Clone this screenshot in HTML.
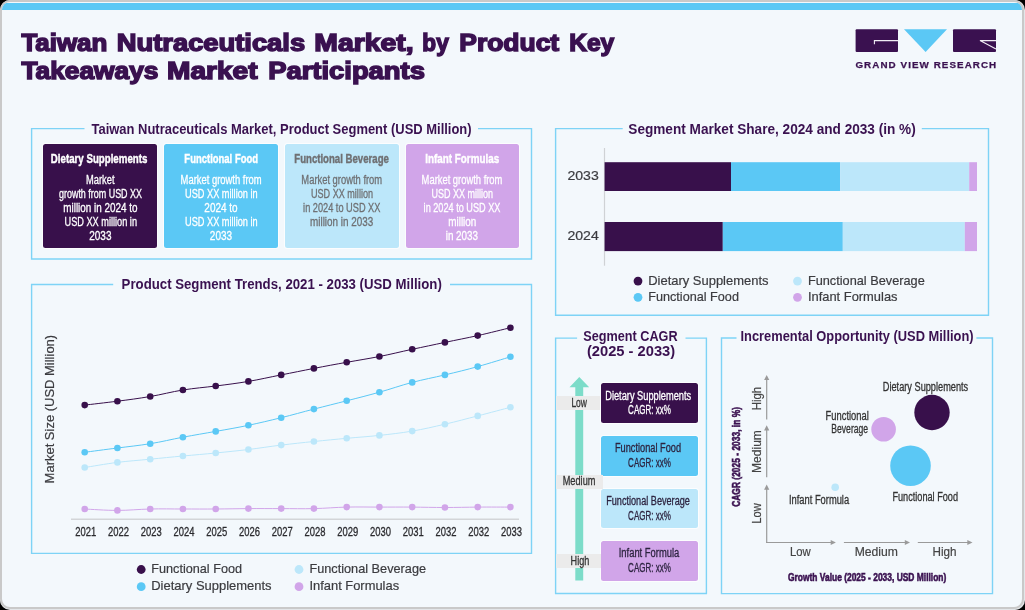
<!DOCTYPE html>
<html lang="en"><head><meta charset="utf-8"><title>Taiwan Nutraceuticals Market, by Product Key Takeaways Market Participants</title>
<style>
html,body{margin:0;padding:0;background:#000;}
body{width:1025px;height:610px;overflow:hidden;font-family:"Liberation Sans",sans-serif;}
#outer{position:absolute;left:0;top:0;width:1025px;height:610px;border-radius:10px;background:#e3e6e9;}
#card{position:absolute;left:0;top:0;width:1020px;height:605px;border:2px solid #c9c9c9;border-radius:10px;background:#f3f8fc;overflow:hidden;}
#topbar{position:absolute;left:0;top:0.5px;width:1021px;height:7.4px;background:#5bc8f5;}
#stage{position:absolute;left:0;top:0;width:1025px;height:610px;will-change:transform;}
svg{position:absolute;left:0;top:0;}
.t{position:absolute;left:0;top:0;white-space:nowrap;transform-origin:0 0;line-height:normal;}
.bx{position:absolute;border-radius:2.5px;box-shadow:0 0 0 1px rgba(255,255,255,.75);}
.tag{position:absolute;background:#ebebeb;}
</style></head><body>
<div id="outer"><div id="card"><div id="topbar"></div></div></div>
<div id="stage">
<svg width="1025" height="610" viewBox="0 0 1025 610">
<path d="M84.5,128.6H31.6V259.0H531.5V128.6H478" fill="none" stroke="#7ed3f6" stroke-width="1.4"/>
<path d="M622.7,128.6H555.6V315.3H988.5V128.6H921.8" fill="none" stroke="#7ed3f6" stroke-width="1.4"/>
<path d="M113.2,284.5H31.6V553.4H531.5V284.5H450" fill="none" stroke="#7ed3f6" stroke-width="1.4"/>
<path d="M577.1,338.1H555.6V593.5H706.4V338.1H685.5" fill="none" stroke="#7ed3f6" stroke-width="1.4"/>
<path d="M736.5,338.0H721.5V593.6H992.5V338.0H976.4" fill="none" stroke="#7ed3f6" stroke-width="1.4"/>
</svg>
<div class="bx" style="left:43.1px;top:144px;width:113.7px;height:103.6px;background:#38104b"></div>
<div class="bx" style="left:164.1px;top:144px;width:113.7px;height:103.6px;background:#5bc8f5"></div>
<div class="bx" style="left:285px;top:144px;width:113.7px;height:103.6px;background:#bce7fa"></div>
<div class="bx" style="left:405.8px;top:144px;width:113.7px;height:103.6px;background:#d1a5e9"></div>
<div class="bx" style="left:601px;top:383.2px;width:96.9px;height:39.6px;background:#38104b"></div>
<div class="bx" style="left:601px;top:436.1px;width:96.9px;height:39.6px;background:#5bc8f5"></div>
<div class="bx" style="left:601px;top:488.8px;width:96.9px;height:39.6px;background:#bce7fa"></div>
<div class="bx" style="left:601px;top:541.3px;width:96.9px;height:39.6px;background:#d1a5e9"></div>
<svg width="1025" height="610" viewBox="0 0 1025 610">
<rect x="855.6" y="29.2" width="42.4" height="22.8" rx="1" fill="#3a1150"/>
<path d="M898,40.6H874.4V44.2" fill="none" stroke="#f1edf5" stroke-width="1.1"/>
<path d="M904,29.2H947L925.6,52Z" fill="#5bc8f5"/>
<rect x="953" y="29.2" width="43" height="22.8" rx="1" fill="#3a1150"/>
<path d="M996,40.6H980L996,49" fill="none" stroke="#f1edf5" stroke-width="1.1"/>
<path d="M604.5,148V265.7" stroke="#cfd2d5" stroke-width="1.2"/>
<rect x="604.6" y="162.2" width="126.4" height="28.8" fill="#38104b"/><rect x="731" y="162.2" width="109.2" height="28.8" fill="#5bc8f5"/><rect x="840.2" y="162.2" width="129.0" height="28.8" fill="#bce7fa"/><rect x="969.2" y="162.2" width="7.8" height="28.8" fill="#d1a5e9"/>
<rect x="604.6" y="222" width="118.2" height="29.1" fill="#38104b"/><rect x="722.8" y="222" width="120.0" height="29.1" fill="#5bc8f5"/><rect x="842.8" y="222" width="122.0" height="29.1" fill="#bce7fa"/><rect x="964.8" y="222" width="12.2" height="29.1" fill="#d1a5e9"/>
<circle cx="638" cy="281.1" r="4.4" fill="#38104b"/>
<circle cx="638" cy="297.3" r="4.4" fill="#5bc8f5"/>
<circle cx="797.5" cy="281.1" r="4.4" fill="#bce7fa"/>
<circle cx="797.5" cy="297.3" r="4.4" fill="#d1a5e9"/>
<path d="M71,519.2H519" stroke="#d3d5d8" stroke-width="1.4"/>
<path d="M84.7,509.0C90.6,509.3 105.7,510.4 117.4,510.4C129.2,510.4 138.4,509.3 150.2,509.0C162.0,508.7 171.1,509.0 182.9,509.0C194.7,509.0 203.9,509.1 215.7,509.0C227.5,508.9 236.6,508.7 248.4,508.6C260.2,508.5 269.4,508.6 281.2,508.6C293.0,508.6 302.1,508.9 313.9,508.6C325.7,508.3 334.9,507.4 346.7,507.1C358.5,506.8 367.6,507.1 379.4,507.1C391.2,507.1 400.4,507.0 412.2,507.1C424.0,507.2 433.1,507.5 444.9,507.5C456.7,507.5 465.9,507.2 477.7,507.1C489.4,507.0 504.5,507.1 510.4,507.1" fill="none" stroke="#d1a5e9" stroke-width="1.0"/><circle cx="84.7" cy="509.0" r="3.3" fill="#d1a5e9"/><circle cx="117.4" cy="510.4" r="3.3" fill="#d1a5e9"/><circle cx="150.2" cy="509.0" r="3.3" fill="#d1a5e9"/><circle cx="182.9" cy="509.0" r="3.3" fill="#d1a5e9"/><circle cx="215.7" cy="509.0" r="3.3" fill="#d1a5e9"/><circle cx="248.4" cy="508.6" r="3.3" fill="#d1a5e9"/><circle cx="281.2" cy="508.6" r="3.3" fill="#d1a5e9"/><circle cx="313.9" cy="508.6" r="3.3" fill="#d1a5e9"/><circle cx="346.7" cy="507.1" r="3.3" fill="#d1a5e9"/><circle cx="379.4" cy="507.1" r="3.3" fill="#d1a5e9"/><circle cx="412.2" cy="507.1" r="3.3" fill="#d1a5e9"/><circle cx="444.9" cy="507.5" r="3.3" fill="#d1a5e9"/><circle cx="477.7" cy="507.1" r="3.3" fill="#d1a5e9"/><circle cx="510.4" cy="507.1" r="3.3" fill="#d1a5e9"/>
<path d="M84.7,467.5C90.6,466.6 105.7,463.9 117.4,462.4C129.2,460.9 138.4,460.4 150.2,459.2C162.0,458.0 171.1,457.1 182.9,456.0C194.7,454.9 203.9,454.2 215.7,453.0C227.5,451.8 236.6,450.9 248.4,449.5C260.2,448.1 269.4,446.5 281.2,445.1C293.0,443.7 302.1,442.7 313.9,441.5C325.7,440.3 334.9,439.4 346.7,438.3C358.5,437.2 367.6,436.7 379.4,435.4C391.2,434.1 400.4,433.1 412.2,431.1C424.0,429.1 433.1,426.9 444.9,424.2C456.7,421.5 465.9,418.9 477.7,415.9C489.4,412.9 504.5,408.8 510.4,407.3" fill="none" stroke="#bce7fa" stroke-width="1.0"/><circle cx="84.7" cy="467.5" r="3.3" fill="#bce7fa"/><circle cx="117.4" cy="462.4" r="3.3" fill="#bce7fa"/><circle cx="150.2" cy="459.2" r="3.3" fill="#bce7fa"/><circle cx="182.9" cy="456.0" r="3.3" fill="#bce7fa"/><circle cx="215.7" cy="453.0" r="3.3" fill="#bce7fa"/><circle cx="248.4" cy="449.5" r="3.3" fill="#bce7fa"/><circle cx="281.2" cy="445.1" r="3.3" fill="#bce7fa"/><circle cx="313.9" cy="441.5" r="3.3" fill="#bce7fa"/><circle cx="346.7" cy="438.3" r="3.3" fill="#bce7fa"/><circle cx="379.4" cy="435.4" r="3.3" fill="#bce7fa"/><circle cx="412.2" cy="431.1" r="3.3" fill="#bce7fa"/><circle cx="444.9" cy="424.2" r="3.3" fill="#bce7fa"/><circle cx="477.7" cy="415.9" r="3.3" fill="#bce7fa"/><circle cx="510.4" cy="407.3" r="3.3" fill="#bce7fa"/>
<path d="M84.7,452.3C90.6,451.5 105.7,449.5 117.4,448.0C129.2,446.5 138.4,445.6 150.2,443.7C162.0,441.8 171.1,439.4 182.9,437.2C194.7,435.0 203.9,433.5 215.7,431.4C227.5,429.3 236.6,427.8 248.4,425.3C260.2,422.8 269.4,420.6 281.2,417.7C293.0,414.8 302.1,412.1 313.9,409.1C325.7,406.1 334.9,403.8 346.7,400.8C358.5,397.8 367.6,395.5 379.4,392.2C391.2,388.9 400.4,385.5 412.2,382.4C424.0,379.3 433.1,377.7 444.9,374.9C456.7,372.1 465.9,369.9 477.7,366.6C489.4,363.3 504.5,358.6 510.4,356.8" fill="none" stroke="#5bc8f5" stroke-width="1.0"/><circle cx="84.7" cy="452.3" r="3.3" fill="#5bc8f5"/><circle cx="117.4" cy="448.0" r="3.3" fill="#5bc8f5"/><circle cx="150.2" cy="443.7" r="3.3" fill="#5bc8f5"/><circle cx="182.9" cy="437.2" r="3.3" fill="#5bc8f5"/><circle cx="215.7" cy="431.4" r="3.3" fill="#5bc8f5"/><circle cx="248.4" cy="425.3" r="3.3" fill="#5bc8f5"/><circle cx="281.2" cy="417.7" r="3.3" fill="#5bc8f5"/><circle cx="313.9" cy="409.1" r="3.3" fill="#5bc8f5"/><circle cx="346.7" cy="400.8" r="3.3" fill="#5bc8f5"/><circle cx="379.4" cy="392.2" r="3.3" fill="#5bc8f5"/><circle cx="412.2" cy="382.4" r="3.3" fill="#5bc8f5"/><circle cx="444.9" cy="374.9" r="3.3" fill="#5bc8f5"/><circle cx="477.7" cy="366.6" r="3.3" fill="#5bc8f5"/><circle cx="510.4" cy="356.8" r="3.3" fill="#5bc8f5"/>
<path d="M84.7,405.1C90.6,404.4 105.7,402.7 117.4,401.2C129.2,399.7 138.4,398.5 150.2,396.5C162.0,394.5 171.1,391.9 182.9,390.0C194.7,388.1 203.9,387.5 215.7,386.0C227.5,384.5 236.6,383.4 248.4,381.4C260.2,379.4 269.4,377.2 281.2,374.9C293.0,372.6 302.1,370.7 313.9,368.4C325.7,366.1 334.9,364.4 346.7,362.3C358.5,360.2 367.6,358.8 379.4,356.5C391.2,354.2 400.4,351.8 412.2,349.3C424.0,346.8 433.1,344.9 444.9,342.4C456.7,339.9 465.9,338.2 477.7,335.6C489.4,333.0 504.5,329.1 510.4,327.7" fill="none" stroke="#38104b" stroke-width="1.0"/><circle cx="84.7" cy="405.1" r="3.3" fill="#38104b"/><circle cx="117.4" cy="401.2" r="3.3" fill="#38104b"/><circle cx="150.2" cy="396.5" r="3.3" fill="#38104b"/><circle cx="182.9" cy="390.0" r="3.3" fill="#38104b"/><circle cx="215.7" cy="386.0" r="3.3" fill="#38104b"/><circle cx="248.4" cy="381.4" r="3.3" fill="#38104b"/><circle cx="281.2" cy="374.9" r="3.3" fill="#38104b"/><circle cx="313.9" cy="368.4" r="3.3" fill="#38104b"/><circle cx="346.7" cy="362.3" r="3.3" fill="#38104b"/><circle cx="379.4" cy="356.5" r="3.3" fill="#38104b"/><circle cx="412.2" cy="349.3" r="3.3" fill="#38104b"/><circle cx="444.9" cy="342.4" r="3.3" fill="#38104b"/><circle cx="477.7" cy="335.6" r="3.3" fill="#38104b"/><circle cx="510.4" cy="327.7" r="3.3" fill="#38104b"/>
<circle cx="141.2" cy="569.5" r="4.4" fill="#38104b"/>
<circle cx="141.2" cy="586.7" r="4.4" fill="#5bc8f5"/>
<circle cx="299" cy="569.5" r="4.4" fill="#bce7fa"/>
<circle cx="299" cy="586.7" r="4.4" fill="#d1a5e9"/>
<path d="M579.3,377L589.2,387.2H583.2V580.6H575.3V387.2H569.5Z" fill="#7cdcc9"/>
<path d="M766.7,377.9V419.6" stroke="#9a9a9a" stroke-width="1.2" fill="none"/><path d="M764.1,380.09999999999997L766.7,374.9L769.3000000000001,380.09999999999997Z" fill="#9a9a9a"/>
<path d="M766.7,428.3V477.3" stroke="#9a9a9a" stroke-width="1.2" fill="none"/><path d="M764.1,430.5L766.7,425.3L769.3000000000001,430.5Z" fill="#9a9a9a"/>
<path d="M766.7,487.6V543.1" stroke="#9a9a9a" stroke-width="1.2" fill="none"/><path d="M764.1,489.8L766.7,484.6L769.3000000000001,489.8Z" fill="#9a9a9a"/>
<path d="M766.1,542.5H832.9" stroke="#9a9a9a" stroke-width="1.2" fill="none"/><path d="M830.6999999999999,539.9L835.9,542.5L830.6999999999999,545.1Z" fill="#9a9a9a"/>
<path d="M843.9,542.5H907.0" stroke="#9a9a9a" stroke-width="1.2" fill="none"/><path d="M904.8,539.9L910.0,542.5L904.8,545.1Z" fill="#9a9a9a"/>
<path d="M917.8,542.5H969.5" stroke="#9a9a9a" stroke-width="1.2" fill="none"/><path d="M967.3,539.9L972.5,542.5L967.3,545.1Z" fill="#9a9a9a"/>
<circle cx="932" cy="412.5" r="17.7" fill="#38104b"/>
<circle cx="883.6" cy="429.2" r="12.3" fill="#d1a5e9"/>
<circle cx="910.5" cy="465.7" r="20.3" fill="#5bc8f5"/>
<circle cx="835.2" cy="487.2" r="3.8" fill="#bce7fa"/>
</svg>
<div class="tag" style="left:556px;top:396.2px;width:44.1px;height:14.0px"></div>
<div class="tag" style="left:555.8px;top:475.3px;width:47.7px;height:13.3px"></div>
<div class="tag" style="left:555.8px;top:554px;width:45.2px;height:13.5px"></div>
<span class="t" id="t0" style="font-size:24.2px;font-weight:700;color:#3a1150;-webkit-text-stroke:1.5px #3a1150;transform:translate(21.40px,29.40px) scaleX(1.0703);">Taiwan</span>
<span class="t" id="t1" style="font-size:24.2px;font-weight:700;color:#3a1150;-webkit-text-stroke:1.5px #3a1150;transform:translate(116.77px,29.40px) scaleX(1.1299);">Nutraceuticals</span>
<span class="t" id="t2" style="font-size:24.2px;font-weight:700;color:#3a1150;-webkit-text-stroke:1.5px #3a1150;transform:translate(314.33px,29.40px) scaleX(1.1715);">Market,</span>
<span class="t" id="t3" style="font-size:24.2px;font-weight:700;color:#3a1150;-webkit-text-stroke:1.5px #3a1150;transform:translate(422.36px,29.40px) scaleX(0.9361);">by</span>
<span class="t" id="t4" style="font-size:24.2px;font-weight:700;color:#3a1150;-webkit-text-stroke:1.5px #3a1150;transform:translate(459.31px,29.40px) scaleX(1.0928);">Product</span>
<span class="t" id="t5" style="font-size:24.2px;font-weight:700;color:#3a1150;-webkit-text-stroke:1.5px #3a1150;transform:translate(569.19px,29.40px) scaleX(1.0132);">Key</span>
<span class="t" id="t6" style="font-size:24.2px;font-weight:700;color:#3a1150;-webkit-text-stroke:1.5px #3a1150;transform:translate(21.40px,57.40px) scaleX(1.0876);">Takeaways</span>
<span class="t" id="t7" style="font-size:24.2px;font-weight:700;color:#3a1150;-webkit-text-stroke:1.5px #3a1150;transform:translate(167.04px,57.40px) scaleX(1.1610);">Market</span>
<span class="t" id="t8" style="font-size:24.2px;font-weight:700;color:#3a1150;-webkit-text-stroke:1.5px #3a1150;transform:translate(268.17px,57.40px) scaleX(1.1321);">Participants</span>
<span class="t" id="t9" style="font-size:9.2px;font-weight:700;color:#3a1150;letter-spacing:1.0px;-webkit-text-stroke:0.25px #3a1150;transform:translate(855.40px,60.10px) scaleX(1.0681);">GRAND VIEW RESEARCH</span>
<span class="t" id="t10" style="font-size:14px;font-weight:700;color:#3a1150;transform:translate(91.50px,120.90px) scaleX(0.9260);">Taiwan Nutraceuticals Market, Product Segment (USD Million)</span>
<span class="t" id="t11" style="font-size:14px;font-weight:700;color:#3a1150;transform:translate(628.30px,120.90px) scaleX(0.9722);">Segment Market Share, 2024 and 2033 (in %)</span>
<span class="t" id="t12" style="font-size:14px;font-weight:700;color:#3a1150;transform:translate(121.60px,276.00px) scaleX(0.9441);">Product Segment Trends, 2021 - 2033 (USD Million)</span>
<span class="t" id="t13" style="font-size:14px;font-weight:700;color:#3a1150;transform:translate(583.30px,328.00px) scaleX(0.9047);">Segment CAGR</span>
<span class="t" id="t14" style="font-size:14px;font-weight:700;color:#3a1150;transform:translate(586.90px,342.90px) scaleX(1.0505);">(2025 - 2033)</span>
<span class="t" id="t15" style="font-size:14px;font-weight:700;color:#3a1150;transform:translate(740.50px,328.00px) scaleX(0.9193);">Incremental Opportunity (USD Million)</span>
<span class="t" id="t16" style="font-size:13.5px;font-weight:700;color:#fff;-webkit-text-stroke:0.45px #fff;transform:translate(50.80px,150.50px) scaleX(0.7191);">Dietary Supplements</span>
<span class="t" id="t17" style="font-size:13.5px;font-weight:700;color:#fff;-webkit-text-stroke:0.45px #fff;transform:translate(184.35px,150.50px) scaleX(0.7018);">Functional Food</span>
<span class="t" id="t18" style="font-size:13.5px;font-weight:700;color:#6f7073;-webkit-text-stroke:0.45px #6f7073;transform:translate(294.25px,150.50px) scaleX(0.7128);">Functional Beverage</span>
<span class="t" id="t19" style="font-size:13.5px;font-weight:700;color:#fff;-webkit-text-stroke:0.45px #fff;transform:translate(425.25px,150.50px) scaleX(0.7295);">Infant Formulas</span>
<span class="t" id="t20" style="font-size:12px;font-weight:400;color:#fff;-webkit-text-stroke:0.3px #fff;transform:translate(86.00px,173.00px) scaleX(0.7767);">Market</span>
<span class="t" id="t21" style="font-size:12px;font-weight:400;color:#fff;-webkit-text-stroke:0.3px #fff;transform:translate(59.00px,187.00px) scaleX(0.7453);">growth from USD XX</span>
<span class="t" id="t22" style="font-size:12px;font-weight:400;color:#fff;-webkit-text-stroke:0.3px #fff;transform:translate(63.25px,201.00px) scaleX(0.8243);">million in 2024 to</span>
<span class="t" id="t23" style="font-size:12px;font-weight:400;color:#fff;-webkit-text-stroke:0.3px #fff;transform:translate(64.50px,215.00px) scaleX(0.7658);">USD XX million in</span>
<span class="t" id="t24" style="font-size:12px;font-weight:400;color:#fff;-webkit-text-stroke:0.3px #fff;transform:translate(89.25px,228.90px) scaleX(0.8327);">2033</span>
<span class="t" id="t25" style="font-size:12px;font-weight:400;color:#fff;-webkit-text-stroke:0.3px #fff;transform:translate(180.60px,173.00px) scaleX(0.7836);">Market growth from</span>
<span class="t" id="t26" style="font-size:12px;font-weight:400;color:#fff;-webkit-text-stroke:0.3px #fff;transform:translate(185.10px,187.00px) scaleX(0.7658);">USD XX million in</span>
<span class="t" id="t27" style="font-size:12px;font-weight:400;color:#fff;-webkit-text-stroke:0.3px #fff;transform:translate(204.35px,201.00px) scaleX(0.8300);">2024 to</span>
<span class="t" id="t28" style="font-size:12px;font-weight:400;color:#fff;-webkit-text-stroke:0.3px #fff;transform:translate(185.10px,215.00px) scaleX(0.7658);">USD XX million in</span>
<span class="t" id="t29" style="font-size:12px;font-weight:400;color:#fff;-webkit-text-stroke:0.3px #fff;transform:translate(209.85px,228.90px) scaleX(0.8327);">2033</span>
<span class="t" id="t30" style="font-size:12px;font-weight:400;color:#6f7073;-webkit-text-stroke:0.3px #6f7073;transform:translate(301.35px,173.00px) scaleX(0.7817);">Market growth from</span>
<span class="t" id="t31" style="font-size:12px;font-weight:400;color:#6f7073;-webkit-text-stroke:0.3px #6f7073;transform:translate(311.00px,187.00px) scaleX(0.7560);">USD XX million</span>
<span class="t" id="t32" style="font-size:12px;font-weight:400;color:#6f7073;-webkit-text-stroke:0.3px #6f7073;transform:translate(303.10px,201.00px) scaleX(0.7675);">in 2024 to USD XX</span>
<span class="t" id="t33" style="font-size:12px;font-weight:400;color:#6f7073;-webkit-text-stroke:0.3px #6f7073;transform:translate(310.00px,215.00px) scaleX(0.8243);">million in 2033</span>
<span class="t" id="t34" style="font-size:12px;font-weight:400;color:#fff;-webkit-text-stroke:0.3px #fff;transform:translate(421.60px,173.00px) scaleX(0.7817);">Market growth from</span>
<span class="t" id="t35" style="font-size:12px;font-weight:400;color:#fff;-webkit-text-stroke:0.3px #fff;transform:translate(431.50px,187.00px) scaleX(0.7499);">USD XX million</span>
<span class="t" id="t36" style="font-size:12px;font-weight:400;color:#fff;-webkit-text-stroke:0.3px #fff;transform:translate(423.60px,201.00px) scaleX(0.7625);">in 2024 to USD XX</span>
<span class="t" id="t37" style="font-size:12px;font-weight:400;color:#fff;-webkit-text-stroke:0.3px #fff;transform:translate(448.25px,215.00px) scaleX(0.8250);">million</span>
<span class="t" id="t38" style="font-size:12px;font-weight:400;color:#fff;-webkit-text-stroke:0.3px #fff;transform:translate(445.70px,228.90px) scaleX(0.8213);">in 2033</span>
<span class="t" id="t39" style="font-size:13px;font-weight:400;color:#3b3b3f;-webkit-text-stroke:0.2px #3b3b3f;transform:translate(567.40px,168.00px) scaleX(1.0840);">2033</span>
<span class="t" id="t40" style="font-size:13px;font-weight:400;color:#3b3b3f;-webkit-text-stroke:0.2px #3b3b3f;transform:translate(567.40px,228.00px) scaleX(1.0840);">2024</span>
<span class="t" id="t41" style="font-size:13px;font-weight:400;color:#3b3b3f;-webkit-text-stroke:0.2px #3b3b3f;transform:translate(648.20px,273.00px) scaleX(0.9969);">Dietary Supplements</span>
<span class="t" id="t42" style="font-size:13px;font-weight:400;color:#3b3b3f;-webkit-text-stroke:0.2px #3b3b3f;transform:translate(648.23px,289.00px) scaleX(0.9729);">Functional Food</span>
<span class="t" id="t43" style="font-size:13px;font-weight:400;color:#3b3b3f;-webkit-text-stroke:0.2px #3b3b3f;transform:translate(807.92px,273.00px) scaleX(0.9796);">Functional Beverage</span>
<span class="t" id="t44" style="font-size:13px;font-weight:400;color:#3b3b3f;-webkit-text-stroke:0.2px #3b3b3f;transform:translate(807.91px,289.00px) scaleX(0.9920);">Infant Formulas</span>
<span class="t" id="t45" style="font-size:12.5px;font-weight:400;color:#2a2a2e;-webkit-text-stroke:0.3px #2a2a2e;transform:translate(75.30px,525.10px) scaleX(0.7539);">2021</span>
<span class="t" id="t46" style="font-size:12.5px;font-weight:400;color:#2a2a2e;-webkit-text-stroke:0.3px #2a2a2e;transform:translate(108.05px,525.10px) scaleX(0.7539);">2022</span>
<span class="t" id="t47" style="font-size:12.5px;font-weight:400;color:#2a2a2e;-webkit-text-stroke:0.3px #2a2a2e;transform:translate(140.79px,525.10px) scaleX(0.7539);">2023</span>
<span class="t" id="t48" style="font-size:12.5px;font-weight:400;color:#2a2a2e;-webkit-text-stroke:0.3px #2a2a2e;transform:translate(173.54px,525.10px) scaleX(0.7539);">2024</span>
<span class="t" id="t49" style="font-size:12.5px;font-weight:400;color:#2a2a2e;-webkit-text-stroke:0.3px #2a2a2e;transform:translate(206.28px,525.10px) scaleX(0.7539);">2025</span>
<span class="t" id="t50" style="font-size:12.5px;font-weight:400;color:#2a2a2e;-webkit-text-stroke:0.3px #2a2a2e;transform:translate(239.03px,525.10px) scaleX(0.7539);">2026</span>
<span class="t" id="t51" style="font-size:12.5px;font-weight:400;color:#2a2a2e;-webkit-text-stroke:0.3px #2a2a2e;transform:translate(271.78px,525.10px) scaleX(0.7539);">2027</span>
<span class="t" id="t52" style="font-size:12.5px;font-weight:400;color:#2a2a2e;-webkit-text-stroke:0.3px #2a2a2e;transform:translate(304.52px,525.10px) scaleX(0.7539);">2028</span>
<span class="t" id="t53" style="font-size:12.5px;font-weight:400;color:#2a2a2e;-webkit-text-stroke:0.3px #2a2a2e;transform:translate(337.27px,525.10px) scaleX(0.7539);">2029</span>
<span class="t" id="t54" style="font-size:12.5px;font-weight:400;color:#2a2a2e;-webkit-text-stroke:0.3px #2a2a2e;transform:translate(370.02px,525.10px) scaleX(0.7539);">2030</span>
<span class="t" id="t55" style="font-size:12.5px;font-weight:400;color:#2a2a2e;-webkit-text-stroke:0.3px #2a2a2e;transform:translate(402.76px,525.10px) scaleX(0.7539);">2031</span>
<span class="t" id="t56" style="font-size:12.5px;font-weight:400;color:#2a2a2e;-webkit-text-stroke:0.3px #2a2a2e;transform:translate(435.51px,525.10px) scaleX(0.7539);">2032</span>
<span class="t" id="t57" style="font-size:12.5px;font-weight:400;color:#2a2a2e;-webkit-text-stroke:0.3px #2a2a2e;transform:translate(468.25px,525.10px) scaleX(0.7539);">2032</span>
<span class="t" id="t58" style="font-size:12.5px;font-weight:400;color:#2a2a2e;-webkit-text-stroke:0.3px #2a2a2e;transform:translate(501.00px,525.10px) scaleX(0.7539);">2033</span>
<span class="t" id="t59" style="font-size:13px;font-weight:400;color:#3b3b3f;-webkit-text-stroke:0.2px #3b3b3f;transform:translate(53.60px,483.40px) rotate(-90deg) scaleX(0.9982) translateY(-12.00px);">Market Size (USD Million)</span>
<span class="t" id="t60" style="font-size:13px;font-weight:400;color:#3b3b3f;-webkit-text-stroke:0.2px #3b3b3f;transform:translate(151.23px,561.00px) scaleX(0.9740);">Functional Food</span>
<span class="t" id="t61" style="font-size:13px;font-weight:400;color:#3b3b3f;-webkit-text-stroke:0.2px #3b3b3f;transform:translate(151.20px,578.10px) scaleX(0.9978);">Dietary Supplements</span>
<span class="t" id="t62" style="font-size:13px;font-weight:400;color:#3b3b3f;-webkit-text-stroke:0.2px #3b3b3f;transform:translate(309.42px,561.00px) scaleX(0.9779);">Functional Beverage</span>
<span class="t" id="t63" style="font-size:13px;font-weight:400;color:#3b3b3f;-webkit-text-stroke:0.2px #3b3b3f;transform:translate(309.41px,578.10px) scaleX(0.9932);">Infant Formulas</span>
<span class="t" id="t64" style="font-size:12px;font-weight:400;color:#333;-webkit-text-stroke:0.3px #333;transform:translate(571.40px,395.80px) scaleX(0.7070);">Low</span>
<span class="t" id="t65" style="font-size:12px;font-weight:400;color:#333;-webkit-text-stroke:0.3px #333;transform:translate(562.70px,473.90px) scaleX(0.7661);">Medium</span>
<span class="t" id="t66" style="font-size:12px;font-weight:400;color:#333;-webkit-text-stroke:0.3px #333;transform:translate(570.60px,553.80px) scaleX(0.7581);">High</span>
<span class="t" id="t67" style="font-size:12px;font-weight:400;color:#fff;-webkit-text-stroke:0.3px #fff;transform:translate(605.20px,388.50px) scaleX(0.7721);">Dietary Supplements</span>
<span class="t" id="t68" style="font-size:12px;font-weight:400;color:#fff;-webkit-text-stroke:0.3px #fff;transform:translate(628.10px,403.20px) scaleX(0.6668);">CAGR: xx%</span>
<span class="t" id="t69" style="font-size:12px;font-weight:400;color:#2d2440;-webkit-text-stroke:0.3px #2d2440;transform:translate(615.00px,440.90px) scaleX(0.7672);">Functional Food</span>
<span class="t" id="t70" style="font-size:12px;font-weight:400;color:#2d2440;-webkit-text-stroke:0.3px #2d2440;transform:translate(628.10px,456.10px) scaleX(0.6668);">CAGR: xx%</span>
<span class="t" id="t71" style="font-size:12px;font-weight:400;color:#2d2440;-webkit-text-stroke:0.3px #2d2440;transform:translate(606.20px,493.60px) scaleX(0.7600);">Functional Beverage</span>
<span class="t" id="t72" style="font-size:12px;font-weight:400;color:#2d2440;-webkit-text-stroke:0.3px #2d2440;transform:translate(628.10px,508.80px) scaleX(0.6668);">CAGR: xx%</span>
<span class="t" id="t73" style="font-size:12px;font-weight:400;color:#2d2440;-webkit-text-stroke:0.3px #2d2440;transform:translate(618.72px,546.10px) scaleX(0.7823);">Infant Formula</span>
<span class="t" id="t74" style="font-size:12px;font-weight:400;color:#2d2440;-webkit-text-stroke:0.3px #2d2440;transform:translate(628.10px,561.30px) scaleX(0.6668);">CAGR: xx%</span>
<span class="t" id="t75" style="font-size:12px;font-weight:400;color:#333;-webkit-text-stroke:0.3px #333;transform:translate(882.80px,379.70px) scaleX(0.7667);">Dietary Supplements</span>
<span class="t" id="t76" style="font-size:12px;font-weight:400;color:#333;-webkit-text-stroke:0.3px #333;transform:translate(825.60px,408.90px) scaleX(0.7806);">Functional</span>
<span class="t" id="t77" style="font-size:12px;font-weight:400;color:#333;-webkit-text-stroke:0.3px #333;transform:translate(831.30px,421.60px) scaleX(0.7157);">Beverage</span>
<span class="t" id="t78" style="font-size:12px;font-weight:400;color:#333;-webkit-text-stroke:0.3px #333;transform:translate(788.92px,492.90px) scaleX(0.7784);">Infant Formula</span>
<span class="t" id="t79" style="font-size:12px;font-weight:400;color:#333;-webkit-text-stroke:0.3px #333;transform:translate(892.40px,489.80px) scaleX(0.7625);">Functional Food</span>
<span class="t" id="t80" style="font-size:13px;font-weight:400;color:#444;-webkit-text-stroke:0.2px #444;transform:translate(789.93px,544.00px) scaleX(0.8696);">Low</span>
<span class="t" id="t81" style="font-size:13px;font-weight:400;color:#444;-webkit-text-stroke:0.2px #444;transform:translate(854.66px,544.00px) scaleX(0.9368);">Medium</span>
<span class="t" id="t82" style="font-size:13px;font-weight:400;color:#444;-webkit-text-stroke:0.2px #444;transform:translate(932.50px,544.00px) scaleX(0.8978);">High</span>
<span class="t" id="t83" style="font-size:11.5px;font-weight:700;color:#3a1150;-webkit-text-stroke:0.6px #3a1150;transform:translate(788.00px,570.60px) scaleX(0.7328);">Growth Value (2025 - 2033, USD Million)</span>
<span class="t" id="t84" style="font-size:13px;font-weight:400;color:#444;-webkit-text-stroke:0.2px #444;transform:translate(760.70px,410.28px) rotate(-90deg) scaleX(0.8782) translateY(-12.00px);">High</span>
<span class="t" id="t85" style="font-size:13px;font-weight:400;color:#444;-webkit-text-stroke:0.2px #444;transform:translate(760.70px,472.93px) rotate(-90deg) scaleX(0.9255) translateY(-12.00px);">Medium</span>
<span class="t" id="t86" style="font-size:13px;font-weight:400;color:#444;-webkit-text-stroke:0.2px #444;transform:translate(760.70px,523.76px) rotate(-90deg) scaleX(0.8568) translateY(-12.00px);">Low</span>
<span class="t" id="t87" style="font-size:11.5px;font-weight:700;color:#3a1150;-webkit-text-stroke:0.6px #3a1150;transform:translate(739.80px,506.80px) rotate(-90deg) scaleX(0.7329) translateY(-10.00px);">CAGR (2025 - 2033, in %)</span>
</div>
</body></html>
